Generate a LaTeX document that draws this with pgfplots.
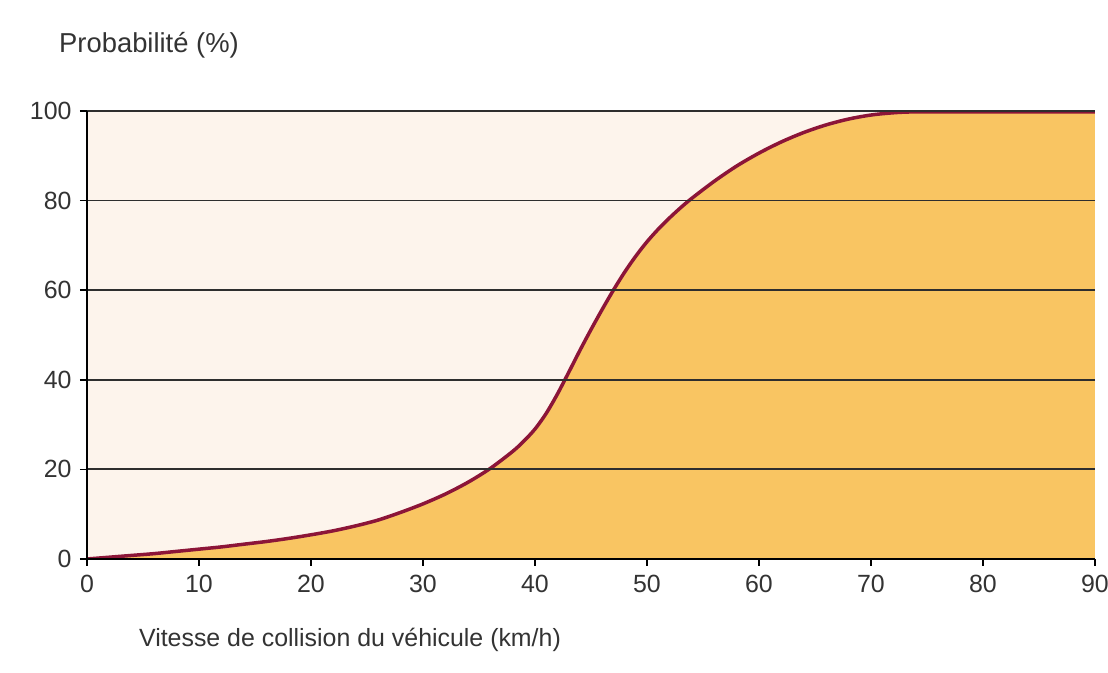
\documentclass[border=0pt]{standalone}
\usepackage{fontspec}
\setmainfont{Liberation Sans}
\usepackage{pgfplots}
\usepackage{pgfplotstable}
\pgfplotsset{compat=1.18}
\definecolor{bgpeach}{HTML}{FDF4EC}
\definecolor{fillorange}{HTML}{F9C562}
\definecolor{curvec}{HTML}{8C1538}
\definecolor{gridc}{HTML}{2E2E2E}
\definecolor{txt}{HTML}{333333}
\pgfplotstableread{
x y
0 0
2 0.4
4 0.8
6 1.2
8 1.7
10 2.2
12 2.7
14 3.3
16 3.9
18 4.6
20 5.4
22 6.3
24 7.4
26 8.7
28 10.4
30 12.3
32 14.5
34 17.1
36 20.2
38 24.0
39 26.3
40 29.0
41 32.5
42 36.8
43 41.6
44 46.5
45 51.2
46 55.7
47 60.0
48 64.0
49 67.6
50 70.8
51 73.6
52 76.1
53 78.4
54 80.5
56 84.3
58 87.7
60 90.6
62 93.1
64 95.2
66 96.9
68 98.2
70 99.1
72 99.6
74 99.8
80 99.8
90 99.8
}\datatab
\begin{document}
\begin{tikzpicture}
\path[use as bounding box, fill=white] (0bp,0bp) rectangle (1108bp,673bp);
\begin{axis}[
  at={(87bp,114bp)}, anchor=south west,
  scale only axis, width=1008bp, height=448bp,
  xmin=0, xmax=90, ymin=0, ymax=100,
  xtick={0,10,...,90}, ytick={0,20,...,100},
  axis x line*=bottom, axis y line*=left,
  axis line style={black, line width=1.5bp},
  tick align=outside, major tick length=7bp,
  tick style={black, line width=1.5bp},
  ymajorgrids, major grid style={gridc, line width=1.8bp},
  axis background/.style={fill=bgpeach},
  axis on top,
  ticklabel style={font=\fontsize{25}{29}\selectfont, text=txt},
  /pgf/number format/assume math mode=true,
  xticklabel style={yshift=-6bp},
  yticklabel style={xshift=-5bp},
]
\addplot[fill=fillorange, draw=none, smooth] table {\datatab} \closedcycle;
\addplot[curvec, line width=3.5bp, smooth] table {\datatab};
\end{axis}
\node[text=txt, font=\fontsize{27.5}{31}\selectfont] at (149bp,628bp) {Probabilité (\%)};
\node[text=txt, font=\fontsize{25}{29}\selectfont] at (350bp,33bp) {Vitesse de collision du véhicule (km/h)};
\end{tikzpicture}
\end{document}
